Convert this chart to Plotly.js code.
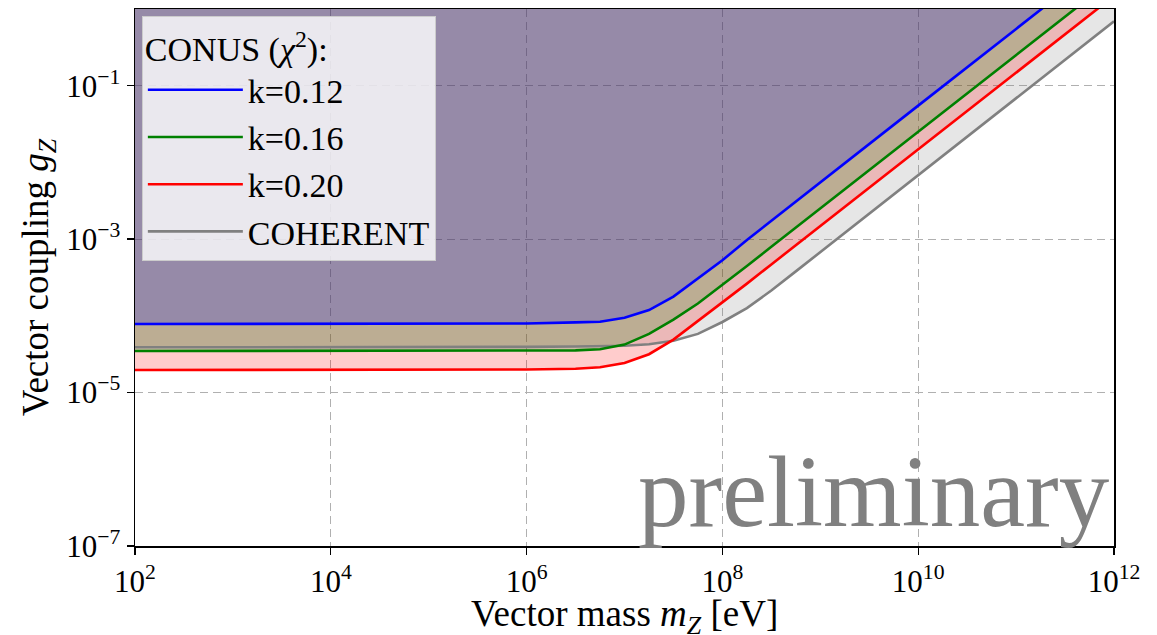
<!DOCTYPE html>
<html>
<head>
<meta charset="utf-8">
<script src="https://cdn.plot.ly/plotly-3.0.1.min.js"></script>
<style>
  html, body { margin: 0; padding: 0; background: #ffffff; }
  #chart { width: 1157px; height: 635px; }
</style>
</head>
<body>
<div id="chart"></div>
<script>
// Vector mass m_Z [eV] (shared sample points for every curve)
const mass = [1e2, 1e4, 1e6, 3.16e6, 5.62e6, 1e7, 1.78e7, 3.16e7, 5.62e7, 1e8, 1.78e8, 3.16e8, 5.62e8, 1e9, 1e10, 1e11, 1e12];

// Vector coupling g_Z limits
const conusK012 = [7.83e-5, 7.83e-5, 7.94e-5, 8.22e-5, 8.39e-5, 9.44e-5, 1.19e-4, 1.78e-4, 3.09e-4, 5.30e-4, 9.77e-4, 1.74e-3, 3.09e-3, 5.50e-3, 5.50e-2, 0.550, 5.50];
const conusK016 = [3.48e-5, 3.48e-5, 3.51e-5, 3.55e-5, 3.67e-5, 4.22e-5, 5.82e-5, 8.91e-5, 1.45e-4, 2.51e-4, 4.47e-4, 7.94e-4, 1.41e-3, 2.51e-3, 2.51e-2, 0.251, 2.51];
const conusK020 = [1.97e-5, 1.97e-5, 2.00e-5, 2.04e-5, 2.14e-5, 2.43e-5, 3.16e-5, 4.90e-5, 8.51e-5, 1.48e-4, 2.63e-4, 4.68e-4, 8.32e-4, 1.48e-3, 1.48e-2, 0.148, 1.48];
const coherent  = [3.89e-5, 3.89e-5, 3.94e-5, 3.98e-5, 4.03e-5, 4.07e-5, 4.27e-5, 4.73e-5, 5.82e-5, 8.32e-5, 1.26e-4, 2.14e-4, 3.80e-4, 6.76e-4, 6.92e-3, 6.92e-2, 0.692];

const seriesNames = ["COHERENT", "k=0.20", "k=0.16", "k=0.12"];
const seriesData = [coherent, conusK020, conusK016, conusK012];
const lineColors = ["#808080", "#ff0000", "#008000", "#0000ff"];
const fillColors = ["rgba(128,128,128,0.2)", "rgba(255,0,0,0.2)", "rgba(0,128,0,0.2)", "rgba(0,0,255,0.2)"];
const legendRanks = [4, 3, 2, 1];

// excluded region extends to the top of the plot
const ceiling = mass.map(() => 10);

const xTickVals = [1e2, 1e4, 1e6, 1e8, 1e10, 1e12];
const xTickText = ["10<sup>2</sup>", "10<sup>4</sup>", "10<sup>6</sup>", "10<sup>8</sup>", "10<sup>10</sup>", "10<sup>12</sup>"];
const yTickVals = [1e-7, 1e-5, 1e-3, 1e-1];
const yTickText = ["10<sup>−7</sup>", "10<sup>−5</sup>", "10<sup>−3</sup>", "10<sup>−1</sup>"];

const FONT = "Liberation Serif, Times New Roman, serif";

const traces = [];
// fills
seriesData.forEach((ys, i) => {
  traces.push({
    x: mass, y: ceiling, mode: "lines", line: {width: 0, color: "rgba(0,0,0,0)"},
    showlegend: false, hoverinfo: "skip"
  });
  traces.push({
    x: mass, y: ys, mode: "lines", line: {width: 0, color: "rgba(0,0,0,0)"},
    fill: "tonexty", fillcolor: fillColors[i],
    showlegend: false, hoverinfo: "skip"
  });
});
// lines
seriesData.forEach((ys, i) => {
  traces.push({
    x: mass, y: ys, mode: "lines", name: seriesNames[i],
    line: {color: lineColors[i], width: 2.6},
    legendrank: legendRanks[i]
  });
});

const axisCommon = {
  type: "log",
  showline: true, linecolor: "#000000", linewidth: 1.5, mirror: true,
  ticks: "outside", ticklen: 7, tickwidth: 1.3, tickcolor: "#000000",
  showgrid: true, gridcolor: "#b0b0b0", gridwidth: 1.2, griddash: "8px,5px",
  zeroline: false,
  tickfont: {family: FONT, size: 31, color: "#000000"},
  tickmode: "array"
};

const layout = {
  width: 1157, height: 635,
  margin: {l: 135, r: 43, t: 9, b: 89},
  paper_bgcolor: "#ffffff", plot_bgcolor: "#ffffff",
  font: {family: FONT, color: "#000000"},
  showlegend: true,
  xaxis: Object.assign({}, axisCommon, {
    range: [2, 12], tickvals: xTickVals, ticktext: xTickText
  }),
  yaxis: Object.assign({}, axisCommon, {
    range: [-7, 0], tickvals: yTickVals, ticktext: yTickText,
    title: {text: "Vector coupling <i>g</i><sub><i>Z</i></sub>", font: {family: FONT, size: 37, color: "#000000"}, standoff: 6}
  }),
  legend: {
    x: 0.007, y: 0.987, xanchor: "left", yanchor: "top",
    bgcolor: "rgba(255,255,255,0.8)", bordercolor: "#cccccc", borderwidth: 1,
    font: {family: FONT, size: 34, color: "#000000"},
    title: {text: "CONUS (<i>χ</i><sup>2</sup>):", font: {family: FONT, size: 34, color: "#000000"}},
    itemwidth: 95, traceorder: "normal"
  },
  annotations: [
    {
      text: "Vector mass <i>m</i><sub><i>Z</i></sub> [eV]", xref: "paper", yref: "paper",
      x: 0.5, y: -0.083, xanchor: "center", yanchor: "top",
      showarrow: false,
      font: {family: FONT, size: 37, color: "#000000"}
    },
    {
      text: "preliminary", xref: "paper", yref: "paper",
      x: 0.998, y: -0.008, xanchor: "right", yanchor: "bottom",
      showarrow: false,
      font: {family: FONT, size: 101, color: "#808080"}
    }
  ]
};

Plotly.newPlot("chart", traces, layout, {displayModeBar: false, staticPlot: true});
</script>
</body>
</html>
